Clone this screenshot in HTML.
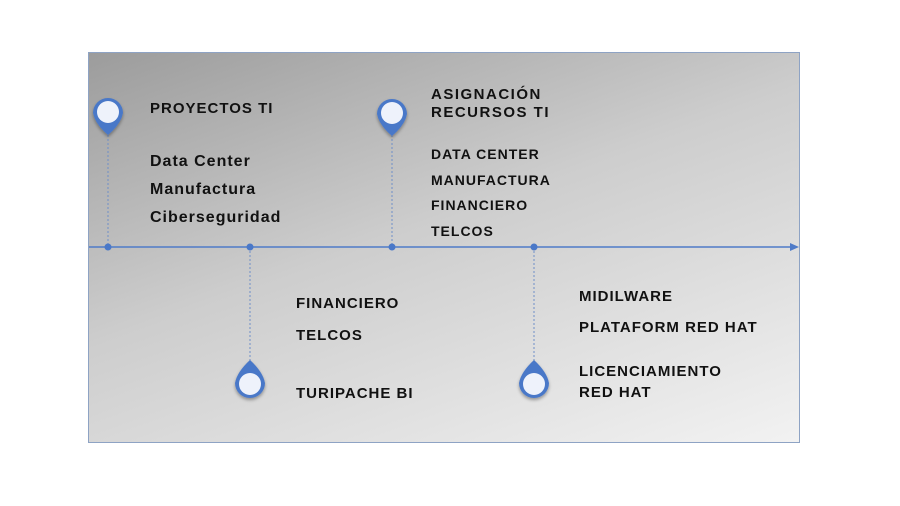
<!DOCTYPE html>
<html><head><meta charset="utf-8"><style>
body{margin:0;width:900px;height:506px;background:#fff;position:relative;overflow:hidden;font-family:"Liberation Sans",sans-serif}
#box{position:absolute;left:88px;top:52px;width:710px;height:389px;border:1px solid #8ea3c4;background:linear-gradient(160deg,#9c9c9c 0%,#cdcdcd 45%,#f2f2f2 100%)}
.t{position:absolute;font-weight:bold;color:#111;line-height:20px;height:20px;white-space:nowrap;letter-spacing:1px}
svg{position:absolute;left:0;top:0}
</style></head><body>
<div id="box"></div>
<svg width="900" height="506">
<defs><filter id="s"><feDropShadow dx="0" dy="2" stdDeviation="1.5" flood-opacity="0.35"/></filter></defs>
<line x1="89" y1="247" x2="792" y2="247" stroke="#4f7bc8" stroke-width="1.5"/>
<polygon points="799,247 790,243 790,251" fill="#4f7bc8"/>
<g stroke="#6f8fc8" stroke-width="1" stroke-dasharray="2,2">
<line x1="108" y1="135" x2="108" y2="247"/><line x1="392" y1="135" x2="392" y2="247"/>
<line x1="250" y1="247" x2="250" y2="362"/><line x1="534" y1="247" x2="534" y2="362"/>
</g>
<g fill="#4a78c8"><circle cx="108" cy="247" r="3.5"/><circle cx="250" cy="247" r="3.5"/><circle cx="392" cy="247" r="3.5"/><circle cx="534" cy="247" r="3.5"/></g>
<g filter="url(#s)">
<path d="M93,113 A15,15 0 1 1 123,113 Q121,124 108,135 Q95,124 93,113Z" fill="#4a78c8"/>
<path d="M377,114 A15,15 0 1 1 407,114 Q405,125 392,136 Q379,125 377,114Z" fill="#4a78c8"/>
<path d="M235,383 A15,15 0 1 0 265,383 Q263,372 250,360 Q237,372 235,383Z" fill="#4a78c8"/>
<path d="M519,383 A15,15 0 1 0 549,383 Q547,372 534,360 Q521,372 519,383Z" fill="#4a78c8"/>
</g>
<g fill="#eef2fb"><circle cx="108" cy="112" r="11"/><circle cx="392" cy="113" r="11"/><circle cx="250" cy="384" r="11"/><circle cx="534" cy="384" r="11"/></g>
</svg>
<div class="t" style="left:150px;top:99px;font-size:15px">PROYECTOS TI</div>
<div class="t" style="left:150px;top:152px;font-size:16px">Data Center</div>
<div class="t" style="left:150px;top:180px;font-size:16px">Manufactura</div>
<div class="t" style="left:150px;top:208px;font-size:16px">Ciberseguridad</div>
<div class="t" style="left:431px;top:85px;font-size:15px;letter-spacing:1.5px">ASIGNACIÓN</div>
<div class="t" style="left:431px;top:103px;font-size:15px;letter-spacing:1.5px">RECURSOS TI</div>
<div class="t" style="left:431px;top:144px;font-size:14px">DATA CENTER</div>
<div class="t" style="left:431px;top:170px;font-size:14px">MANUFACTURA</div>
<div class="t" style="left:431px;top:195px;font-size:14px">FINANCIERO</div>
<div class="t" style="left:431px;top:221px;font-size:14px">TELCOS</div>
<div class="t" style="left:296px;top:294px;font-size:15px">FINANCIERO</div>
<div class="t" style="left:296px;top:326px;font-size:15px">TELCOS</div>
<div class="t" style="left:296px;top:384px;font-size:15px">TURIPACHE BI</div>
<div class="t" style="left:579px;top:287px;font-size:15px">MIDILWARE</div>
<div class="t" style="left:579px;top:318px;font-size:15px">PLATAFORM RED HAT</div>
<div class="t" style="left:579px;top:362px;font-size:15px">LICENCIAMIENTO</div>
<div class="t" style="left:579px;top:383px;font-size:15px">RED HAT</div>
</body></html>
